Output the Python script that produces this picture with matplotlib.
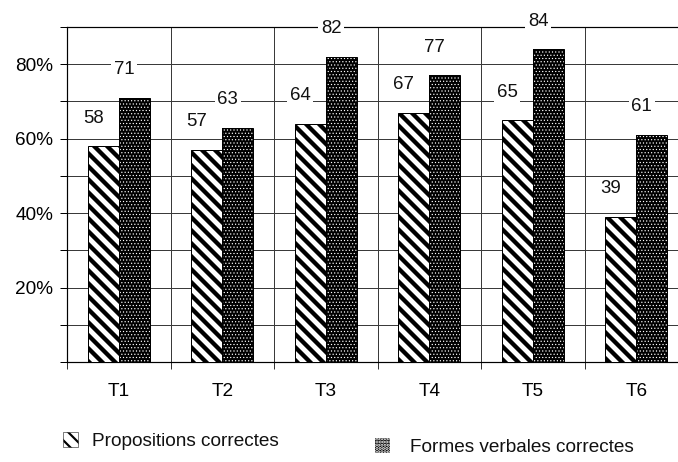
import matplotlib
matplotlib.use('Agg')
import matplotlib.pyplot as plt
from matplotlib.patches import Patch
import numpy as np

categories = ['T1', 'T2', 'T3', 'T4', 'T5', 'T6']
propositions = [58, 57, 64, 67, 65, 39]
formes = [71, 63, 82, 77, 84, 61]
series_labels = ['Propositions correctes', 'Formes verbales correctes']
ytick_values = [20, 40, 60, 80]
ytick_labels = ['20%', '40%', '60%', '80%']

DPI = 156
W, H = 678, 462
PX = 72.0 / DPI  # points per pixel

STRIPES = '\\' * 4
DOTS = '.' * 8
STRIPE_LW = 2.0
DOT_LW = 0.3

plt.rcParams['font.family'] = ['Liberation Sans', 'DejaVu Sans']
plt.rcParams['font.size'] = 8.8
plt.rcParams['text.color'] = '#111111'

fig = plt.figure(figsize=(W / DPI, H / DPI), dpi=DPI)
ax = fig.add_axes([67 / W, 100 / H, 621 / W, 335 / H])

x = np.arange(len(categories))
bw = 0.3


def set_hlw(artists, lw):
    for a in artists:
        if hasattr(a, 'set_hatch_linewidth'):
            a.set_hatch_linewidth(lw)


with plt.rc_context({'hatch.linewidth': STRIPE_LW}):
    b1 = ax.bar(x - bw / 2, propositions, bw, facecolor='white', edgecolor='black',
                linewidth=1.0 * PX, hatch=STRIPES, zorder=3)
    set_hlw(b1, STRIPE_LW)
with plt.rc_context({'hatch.linewidth': DOT_LW}):
    b2 = ax.bar(x + bw / 2, formes, bw, facecolor='black', edgecolor='white',
                linewidth=0, hatch=DOTS, zorder=3)
    set_hlw(b2, DOT_LW)
ax.bar(x + bw / 2, formes, bw, facecolor='none', edgecolor='black',
       linewidth=1.0 * PX, zorder=4)

ax.set_xlim(-0.5, len(categories) - 0.5)
ax.set_ylim(0, 90)

# y ticks / grid
ax.set_yticks(ytick_values)
ax.set_yticklabels(ytick_labels)
ax.set_yticks(np.arange(0, 91, 10), minor=True)
ax.tick_params(axis='y', which='both', direction='out', length=7 * PX,
               width=1 * PX, color='black', pad=7 * PX, labelsize=8.8)

# x ticks at category boundaries, labels at centres
ax.set_xticks(np.arange(-0.5, len(categories), 1.0))
ax.set_xticklabels([''] * (len(categories) + 1))
ax.set_xticks(x, minor=True)
ax.set_xticklabels(categories, minor=True)
ax.tick_params(axis='x', which='major', direction='out', length=7 * PX,
               width=1 * PX, color='#333333')
ax.tick_params(axis='x', which='minor', length=0, pad=21 * PX, labelsize=8.8)

ax.grid(True, which='both', axis='y', color='#3a3a3a', linewidth=1.0 * PX, zorder=0)
ax.grid(True, which='major', axis='x', color='#3a3a3a', linewidth=1.0 * PX, zorder=0)
ax.set_axisbelow(True)

for side in ['top', 'bottom', 'left']:
    ax.spines[side].set_linewidth(1.2 * PX)
    ax.spines[side].set_color('black')
ax.spines['right'].set_visible(False)

# value labels
for xs, vals in [(x - bw / 2, propositions), (x + bw / 2, formes)]:
    for xi, v in zip(xs, vals):
        ax.annotate(str(v), xy=(xi, v), xytext=(-10, 28), textcoords='offset pixels',
                    ha='center', va='center', fontsize=8.6, zorder=6,
                    bbox=dict(boxstyle='square,pad=0.15', facecolor='white',
                              edgecolor='none'))

# legend
with plt.rc_context({'hatch.linewidth': STRIPE_LW}):
    h1 = Patch(facecolor='white', edgecolor='black', hatch=STRIPES, linewidth=0.5 * PX)
    set_hlw([h1], STRIPE_LW)
with plt.rc_context({'hatch.linewidth': DOT_LW}):
    h2 = Patch(facecolor='black', edgecolor='white', hatch=DOTS, linewidth=0)
    set_hlw([h2], DOT_LW)

fs_px = 8.8 * DPI / 72
common = dict(loc='center left', frameon=False, borderpad=0, borderaxespad=0,
              handlelength=15 / fs_px, handleheight=16 / fs_px, fontsize=8.8)
leg1 = fig.legend(handles=[h1], labels=[series_labels[0]],
                  bbox_to_anchor=(63 / W, 1 - 441 / H), handletextpad=14 / fs_px, **common)
leg2 = fig.legend(handles=[h2], labels=[series_labels[1]],
                  bbox_to_anchor=(375 / W, 1 - 447 / H), handletextpad=20 / fs_px, **common)

fig.savefig('out.png', dpi=DPI)
